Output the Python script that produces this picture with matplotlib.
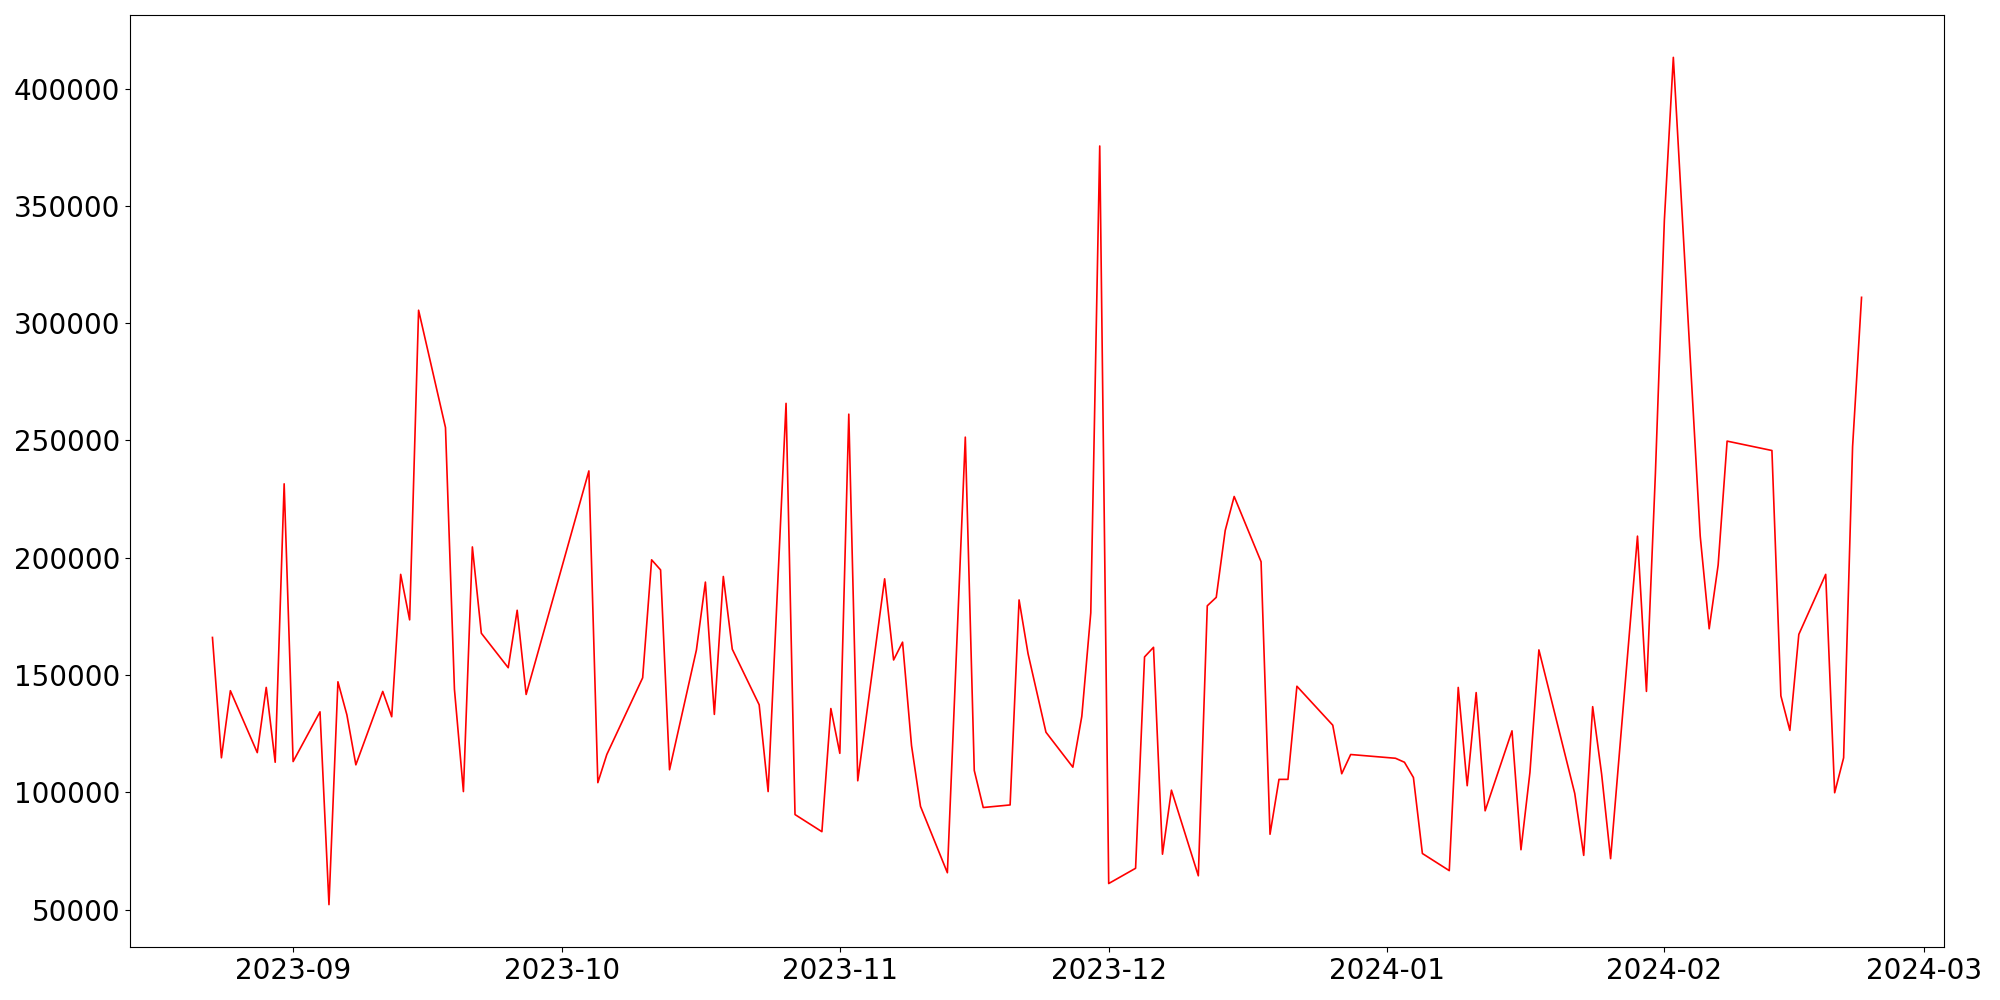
import matplotlib
matplotlib.use("Agg")
import matplotlib.pyplot as plt
import pandas as pd

dates = [
    "2023-08-23", "2023-08-24", "2023-08-25", "2023-08-28", "2023-08-29", "2023-08-30", "2023-08-31",
    "2023-09-01", "2023-09-04", "2023-09-05", "2023-09-06", "2023-09-07", "2023-09-08",
    "2023-09-11", "2023-09-12", "2023-09-13", "2023-09-14", "2023-09-15",
    "2023-09-18", "2023-09-19", "2023-09-20", "2023-09-21", "2023-09-22",
    "2023-09-25", "2023-09-26", "2023-09-27",
    "2023-10-04", "2023-10-05", "2023-10-06",
    "2023-10-10", "2023-10-11", "2023-10-12", "2023-10-13",
    "2023-10-16", "2023-10-17", "2023-10-18", "2023-10-19", "2023-10-20",
    "2023-10-23", "2023-10-24", "2023-10-26", "2023-10-27",
    "2023-10-30", "2023-10-31", "2023-11-01", "2023-11-02", "2023-11-03",
    "2023-11-06", "2023-11-07", "2023-11-08", "2023-11-09", "2023-11-10",
    "2023-11-13", "2023-11-15", "2023-11-16", "2023-11-17",
    "2023-11-20", "2023-11-21", "2023-11-22", "2023-11-24",
    "2023-11-27", "2023-11-28", "2023-11-29", "2023-11-30", "2023-12-01",
    "2023-12-04", "2023-12-05", "2023-12-06", "2023-12-07", "2023-12-08",
    "2023-12-11", "2023-12-12", "2023-12-13", "2023-12-14", "2023-12-15",
    "2023-12-18", "2023-12-19", "2023-12-20", "2023-12-21", "2023-12-22",
    "2023-12-26", "2023-12-27", "2023-12-28",
    "2024-01-02", "2024-01-03", "2024-01-04", "2024-01-05",
    "2024-01-08", "2024-01-09", "2024-01-10", "2024-01-11", "2024-01-12",
    "2024-01-15", "2024-01-16", "2024-01-17", "2024-01-18",
    "2024-01-22", "2024-01-23", "2024-01-24", "2024-01-25", "2024-01-26",
    "2024-01-29", "2024-01-30", "2024-01-31", "2024-02-01", "2024-02-02",
    "2024-02-05", "2024-02-06", "2024-02-07", "2024-02-08",
    "2024-02-13", "2024-02-14", "2024-02-15", "2024-02-16",
    "2024-02-19", "2024-02-20", "2024-02-21", "2024-02-22", "2024-02-23",
]

values = [
    166000, 114700, 143300, 116900, 144700, 112800, 231500,
    113100, 134300, 52100, 147100, 133000, 111700,
    143000, 132200, 192900, 173500, 305500,
    255500, 143900, 100300, 204600, 167800,
    153100, 177600, 141700,
    237000, 104100, 116100,
    148800, 199100, 194800, 109600,
    160700, 189600, 133200, 192000, 161000,
    137300, 100300, 265800, 90500,
    83200, 135700, 116600, 261200, 104900,
    191000, 156400, 164000, 119900, 94000,
    65700, 251400, 109300, 93500,
    94600, 182000, 159100, 125600,
    110700, 132400, 176500, 375500, 61100,
    67600, 157700, 161800, 73600, 100900,
    64400, 179500, 183100, 211600, 226100,
    198300, 82100, 105500, 105500, 145200,
    128600, 107900, 116100,
    114500, 112800, 106300, 73900,
    66600, 144700, 102800, 142500, 92100,
    126200, 75500, 108500, 160700,
    99500, 73100, 136500, 107700, 71700,
    209200, 143000, 236000, 343900, 413300,
    209200, 169700, 196900, 249700,
    245700, 141100, 126400, 167300,
    192900, 99800, 114700, 247300, 311000,
]

x = pd.to_datetime(dates)

fig, ax = plt.subplots(figsize=(20, 10), dpi=100)
ax.plot(x, values, color="red", linewidth=1.2)
ax.tick_params(axis="both", labelsize=20)
fig.subplots_adjust(left=0.065, right=0.972, bottom=0.053, top=0.985)
fig.savefig("out.png", dpi=100)
